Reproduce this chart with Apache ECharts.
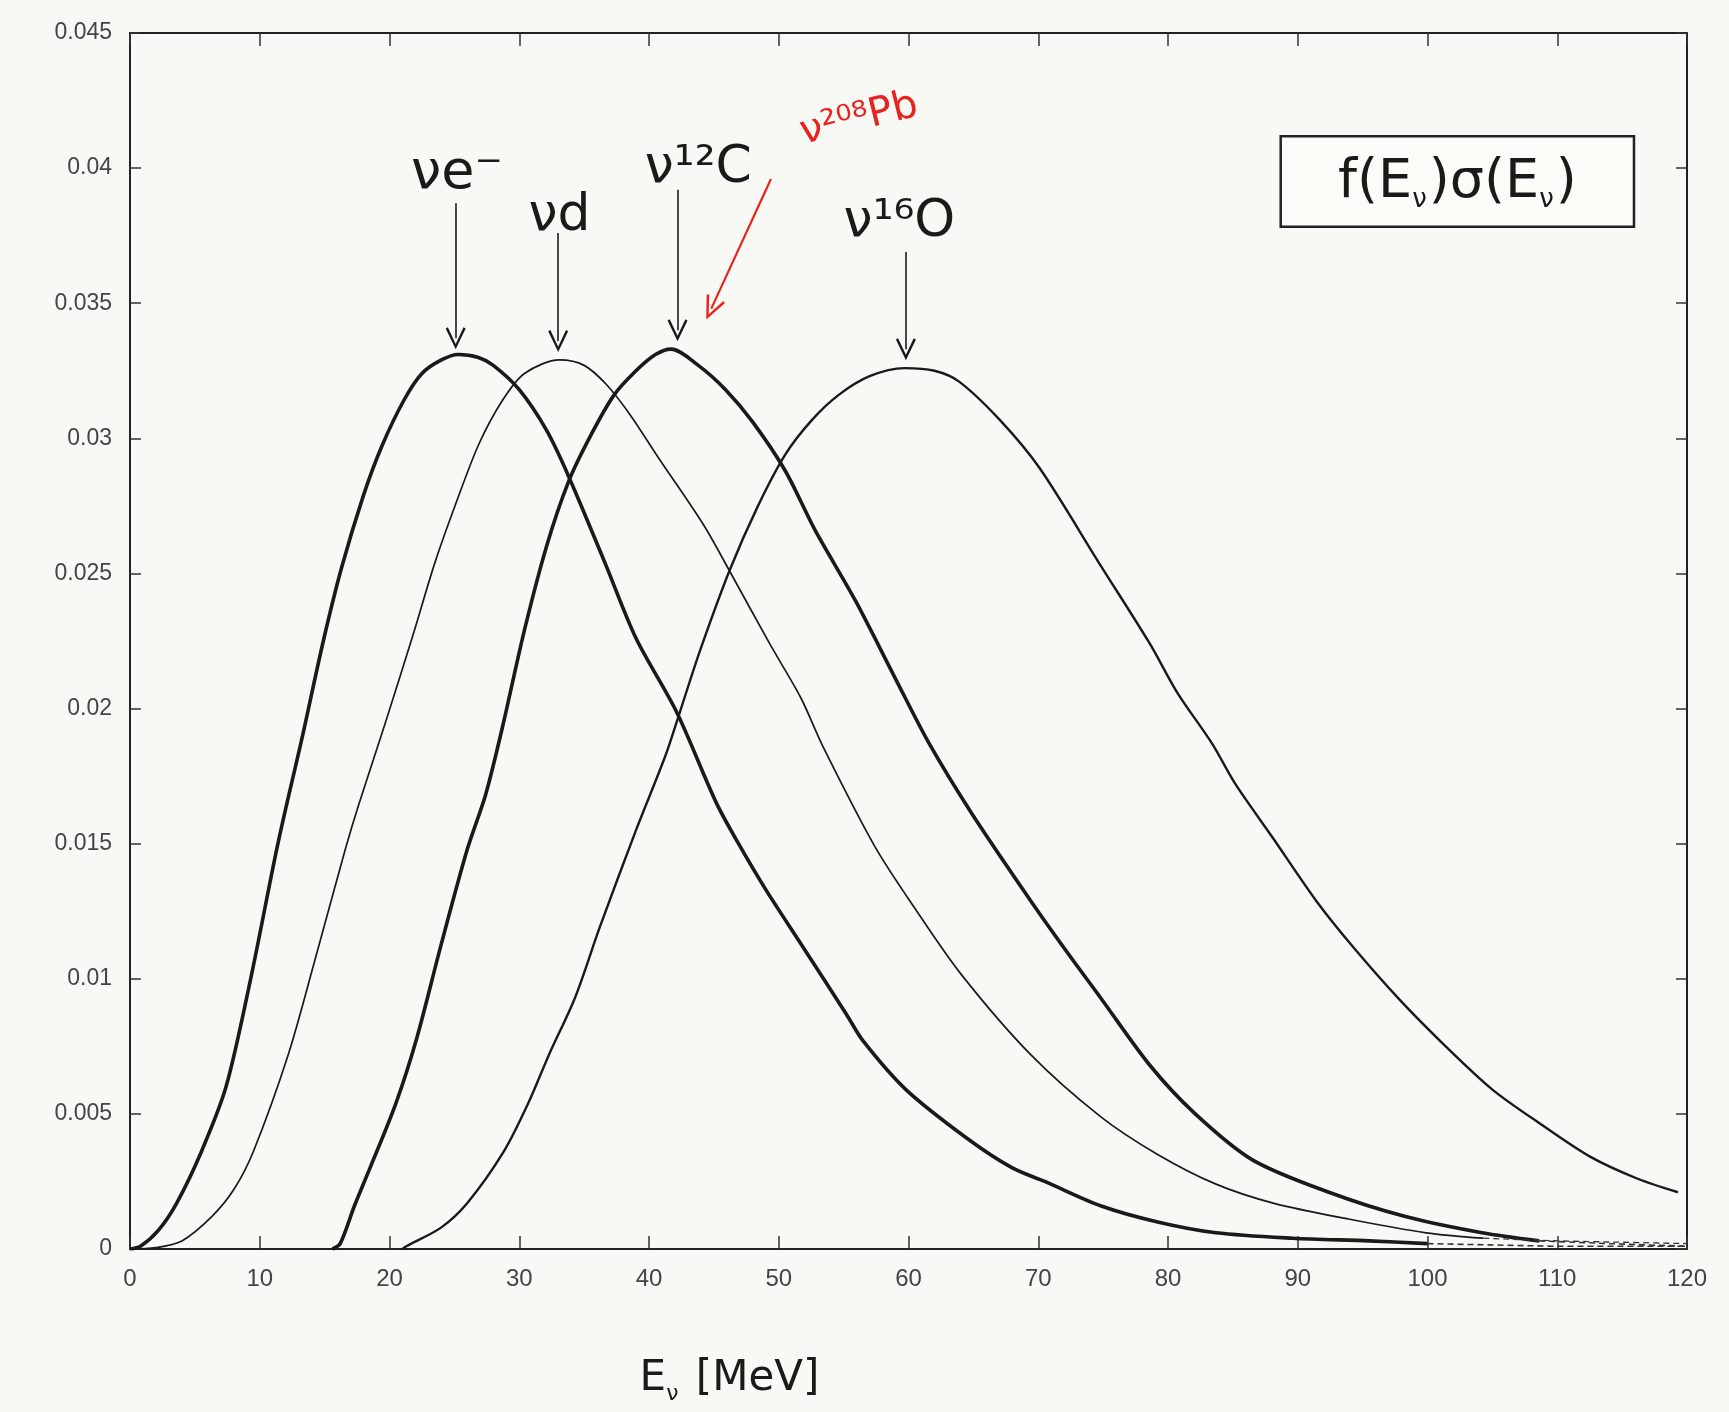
<!DOCTYPE html>
<html>
<head>
<meta charset="utf-8">
<title>f(E)σ(E)</title>
<script src="https://cdn.jsdelivr.net/npm/echarts@6/dist/echarts.min.js"></script>
<style>
  html, body { margin: 0; padding: 0; background: #f8f8f4; }
  #main { width: 1729px; height: 1412px; }
</style>
</head>
<body>
<div id="main"></div>
<script>
// E_nu [MeV], f(E)sigma(E)
var nuElectron = [[0,0],[0.8,0.0001],[2.2,0.0007],[3.6,0.0017],[5.5,0.0036],[7.4,0.006],[9.3,0.01],[11.4,0.015],[13.3,0.019],[14.9,0.0225],[16.3,0.0252],[18,0.0279],[19.4,0.0297],[21.1,0.0314],[22.5,0.0324],[24,0.0329],[25.3,0.0331],[26.8,0.033],[28,0.0327],[30,0.0318],[32.1,0.0303],[33.8,0.0286],[36.6,0.0254],[39,0.0226],[42.1,0.0199],[45.2,0.0165],[46.9,0.015],[49,0.0133],[51.7,0.0113],[55.2,0.0087],[56.5,0.0077],[59.8,0.0059],[64.5,0.0041],[68,0.003],[70.5,0.0025],[74.8,0.0016],[79.2,0.001],[83.7,0.0006],[89.6,0.0004],[95.5,0.0003],[100,0.0002]];
var nuDeuteron = [[0,0],[2,0.00005],[4,0.0003],[6.3,0.0012],[8,0.0022],[9.5,0.0036],[12.2,0.0072],[14.2,0.0106],[16.6,0.0148],[17.6,0.0164],[19.7,0.0195],[21.8,0.0227],[23.5,0.0254],[25.2,0.0277],[26.9,0.0298],[28.7,0.0314],[30.4,0.0324],[33.1,0.0329],[35,0.0327],[36.7,0.032],[38.5,0.0309],[40.7,0.0293],[44.2,0.0268],[46.2,0.0251],[49.3,0.0224],[51.7,0.0204],[53.4,0.0186],[57.4,0.0149],[60.5,0.0126],[64,0.0102],[69.4,0.0072],[74.8,0.0049],[79.2,0.0035],[83.7,0.0024],[88.1,0.0017],[94,0.0011],[99.9,0.0006],[104.3,0.0004]];
var nuCarbon = [[15.6,0],[16.2,0.0002],[17.3,0.0016],[18.5,0.003],[20.5,0.0054],[22.1,0.0078],[24,0.0113],[26,0.0148],[27.4,0.0168],[28.7,0.0193],[30.4,0.0229],[32.1,0.026],[33.8,0.0284],[35.5,0.0301],[37.3,0.0316],[39,0.0325],[40.5,0.0331],[41.7,0.0333],[43.8,0.0327],[45.9,0.0318],[48,0.0306],[50.5,0.0288],[52.8,0.0266],[55.9,0.024],[59,0.0211],[61.6,0.0187],[64.9,0.0161],[69.4,0.0129],[72.2,0.011],[74.8,0.0093],[78.6,0.0068],[82.1,0.005],[86.5,0.0033],[92.4,0.0021],[98.3,0.0012],[104.2,0.0006],[108.6,0.0003]];
var nuOxygen = [[21,0],[21.3,0.0001],[24,0.0008],[26,0.0017],[28.8,0.0036],[30.7,0.0054],[32.3,0.0072],[34.3,0.0093],[36.2,0.0119],[39,0.0155],[41.3,0.0183],[42.4,0.0199],[43.9,0.0221],[46.2,0.0251],[48.4,0.0275],[50.5,0.0294],[52.6,0.0307],[54.6,0.0316],[57,0.0323],[59.7,0.0326],[62,0.0325],[63.9,0.0321],[67,0.0307],[70.1,0.0289],[74.8,0.0253],[78.6,0.0224],[80.7,0.0206],[83.4,0.0187],[85.2,0.0172],[88.1,0.0152],[91.4,0.0129],[94.4,0.0111],[97.9,0.0092],[101.4,0.0075],[105,0.0059],[108.8,0.0046],[112.6,0.0034],[116.2,0.0026],[119.3,0.0021]];
// dashed continuations near the axis
var electronTail = [[100,0.0002],[110,0.0001],[120,0.0001]];
var deuteronTail = [[104.3,0.0004],[110,0.0003],[120,0.0002]];
var carbonTail = [[108.6,0.0003],[114,0.0002],[120,0.0001]];

var xTicks = { min: 0, max: 120, interval: 10 };
var yTicks = { min: 0, max: 0.045, interval: 0.005 };

var chart = echarts.init(document.getElementById('main'));
var arrowHead = 'path://M5,0 L10,10 L8.9,10.6 L5,2.6 L1.1,10.6 L0,10 Z';
var ink = '#1a1a1a';
var handFont = 'DejaVu Sans';

function arrow(x, yFrom, yTo) {
    return [{ coord: [x, yFrom] }, { coord: [x, yTo] }];
}

function tag(x, y, text, size, color, rotate) {
    return {
        coord: [x, y],
        symbol: 'rect',
        symbolSize: 1,
        itemStyle: { color: 'transparent' },
        label: {
            show: true, position: 'inside', formatter: text,
            fontSize: size, color: color || ink, fontFamily: handFont,
            rotate: rotate || 0
        }
    };
}

function curve(name, data, width) {
    return {
        name: name, type: 'line', data: data, showSymbol: false,
        smooth: 0.3,
        lineStyle: { color: ink, width: width },
        animation: false, silent: true
    };
}

function tail(data, width) {
    return {
        type: 'line', data: data, showSymbol: false,
        lineStyle: { color: '#333', width: width, type: [6, 4] },
        animation: false, silent: true
    };
}

var tickStyle = { color: '#333', width: 1.5 };

var option = {
    backgroundColor: '#f8f8f4',
    grid: { left: 130, right: 42, top: 33, bottom: 163, containLabel: false, outerBoundsMode: 'none' },
    xAxis: [{
        type: 'value', min: xTicks.min, max: xTicks.max, interval: xTicks.interval,
        axisLine: { onZero: false, lineStyle: { color: '#222', width: 2 } },
        axisTick: { inside: true, length: 13, lineStyle: tickStyle },
        axisLabel: { fontSize: 24, color: '#444', margin: 18, fontFamily: 'Liberation Sans' },
        splitLine: { show: false },
        name: '{m|E}{s|ν}{m| [MeV]}', nameLocation: 'middle', nameGap: 104,
        nameTextStyle: {
            padding: [0, 358, 0, 0],
            rich: {
                m: { fontSize: 42, color: ink, fontFamily: handFont, lineHeight: 52 },
                s: { fontSize: 22, color: ink, fontFamily: handFont, verticalAlign: 'bottom', lineHeight: 52, padding: [24, 4, 0, 0] }
            }
        }
    }, {
        type: 'value', position: 'top', min: xTicks.min, max: xTicks.max, interval: xTicks.interval,
        axisLine: { onZero: false, lineStyle: { color: '#222', width: 2 } },
        axisTick: { inside: true, length: 13, lineStyle: tickStyle },
        axisLabel: { show: false }, splitLine: { show: false }
    }],
    yAxis: [{
        type: 'value', min: yTicks.min, max: yTicks.max, interval: yTicks.interval,
        axisLine: { show: true, onZero: false, lineStyle: { color: '#222', width: 2 } },
        axisTick: { show: true, inside: true, length: 11, lineStyle: tickStyle },
        axisLabel: {
            fontSize: 23, color: '#444', margin: 18, fontFamily: 'Liberation Sans',
            formatter: function (v) { return String(+v.toFixed(3)); }
        },
        splitLine: { show: false }
    }, {
        type: 'value', position: 'right', min: yTicks.min, max: yTicks.max, interval: yTicks.interval,
        axisLine: { show: true, onZero: false, lineStyle: { color: '#222', width: 2 } },
        axisTick: { show: true, inside: true, length: 11, lineStyle: tickStyle },
        axisLabel: { show: false }, splitLine: { show: false }
    }],
    series: [
        curve('νe⁻', nuElectron, 3.6),
        curve('νd', nuDeuteron, 1.7),
        curve('ν¹²C', nuCarbon, 3.6),
        curve('ν¹⁶O', nuOxygen, 2.4),
        tail(electronTail, 1.6),
        tail(deuteronTail, 1.3),
        tail(carbonTail, 1.6),
        {
            type: 'line', data: [], animation: false, silent: true,
            markLine: {
                silent: true, animation: false,
                symbol: ['none', arrowHead], symbolSize: [20, 22],
                lineStyle: { color: ink, width: 1.6, type: 'solid' },
                label: { show: false },
                data: [
                    arrow(25.1, 0.0387, 0.0337),
                    arrow(33.0, 0.0376, 0.0336),
                    arrow(42.2, 0.0392, 0.034),
                    arrow(59.8, 0.0369, 0.0333)
                ]
            },
            markPoint: {
                silent: true, animation: false,
                data: [
                    tag(25.2, 0.0398, 'νe⁻', 54),
                    tag(33.1, 0.0382, 'νd', 52),
                    tag(43.8, 0.0400, 'ν¹²C', 52),
                    tag(59.3, 0.0380, 'ν¹⁶O', 52),
                    {
                        coord: [102.3, 0.0395], symbol: 'rect', symbolSize: 1,
                        itemStyle: { color: 'transparent' },
                        label: {
                            show: true, position: 'inside',
                            formatter: '{m|f(E}{s|ν}{m|)σ(E}{s|ν}{m|)}',
                            borderColor: '#222', borderWidth: 2.5,
                            padding: [14, 56, 12, 56], backgroundColor: '#fbfbf7',
                            rich: {
                                m: { fontSize: 54, color: ink, fontFamily: handFont, lineHeight: 62 },
                                s: { fontSize: 26, color: ink, fontFamily: handFont, verticalAlign: 'bottom', lineHeight: 62, padding: [28, 2, 0, 0] }
                            }
                        }
                    }
                ]
            }
        },
        {
            type: 'line', data: [], animation: false, silent: true,
            markLine: {
                silent: true, animation: false,
                symbol: ['none', arrowHead], symbolSize: [20, 24],
                lineStyle: { color: '#e8231f', width: 2.2, type: 'solid' },
                label: { show: false },
                data: [[{ coord: [49.4, 0.0396] }, { coord: [44.8, 0.0348] }]]
            },
            markPoint: {
                silent: true, animation: false,
                data: [tag(56.2, 0.0418, 'ν²⁰⁸Pb', 40, '#e8231f', 14)]
            }
        }
    ]
};
chart.setOption(option);
</script>
</body>
</html>
